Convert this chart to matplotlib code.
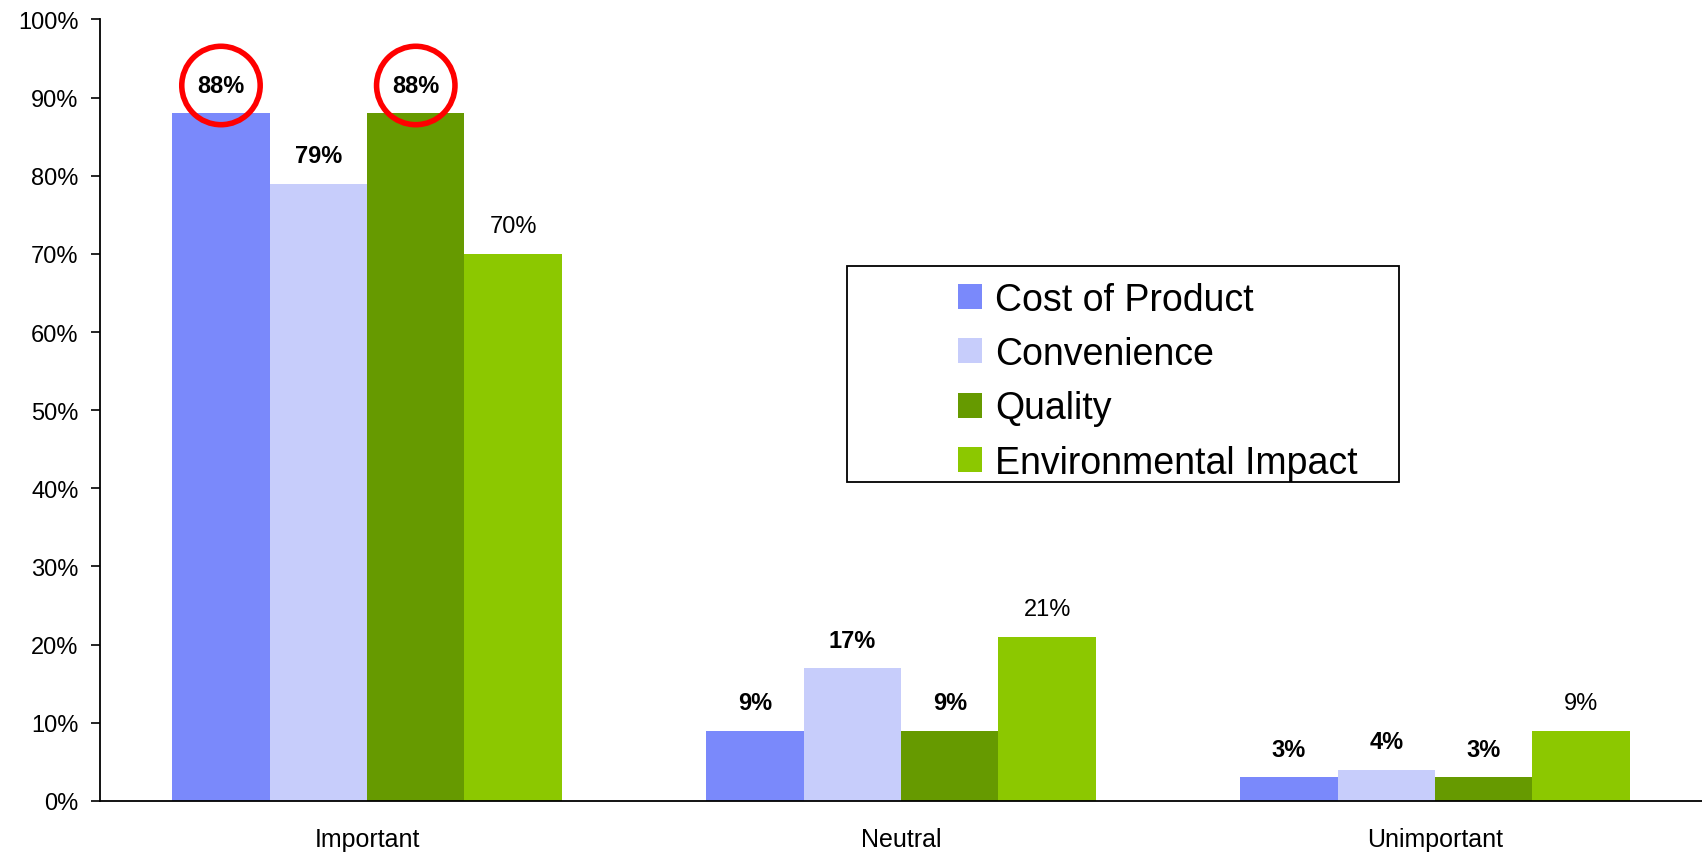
import numpy as np
import matplotlib.pyplot as plt
from matplotlib.patches import Rectangle

plt.rcParams['font.family'] = ['Liberation Sans', 'DejaVu Sans']

categories = ['Important', 'Neutral', 'Unimportant']
series = ['Cost of Product', 'Convenience', 'Quality', 'Environmental Impact']
cost = [88, 9, 3]
convenience = [79, 17, 4]
quality = [88, 9, 3]
environment = [70, 21, 9]
values = [cost, convenience, quality, environment]
colors = ['#7A89FB', '#C7CDFB', '#669A00', '#8CC800']
bold_labels = [True, True, True, False]
circled = [(0, 0), (2, 0)]  # (series, category) with red ring

fig = plt.figure(figsize=(17.02, 8.54), dpi=100)
ax = fig.add_axes([0.0588, 0.061, 0.9412, 0.915])

x = np.arange(len(categories))
w = 0.1824

for i, (name, vals) in enumerate(zip(series, values)):
    pos = x + (i - 1.5) * w
    ax.bar(pos, vals, width=w, color=colors[i], label=name, zorder=2)
    for j, (px, v) in enumerate(zip(pos, vals)):
        kw = {}
        if (i, j) in circled:
            kw['bbox'] = dict(boxstyle='circle,pad=0.66', fc='none', ec='#FF0000', lw=4)
        ax.annotate(f'{v}%', (px, v), xytext=(0, 20), textcoords='offset points',
                    ha='center', va='center', fontsize=17,
                    fontweight='bold' if bold_labels[i] else 'normal', zorder=5, **kw)

ax.set_xlim(-0.5, 2.5)
ax.set_ylim(0, 100)
ax.set_yticks(np.arange(0, 101, 10))
ax.set_yticklabels([f'{t}%' for t in range(0, 101, 10)], fontsize=17)
ax.set_xticks(x)
ax.set_xticklabels(categories, fontsize=18)
ax.tick_params(axis='x', length=0, pad=19)
ax.tick_params(axis='y', length=6.5, width=1.2, direction='out', pad=9)
for s in ['top', 'right']:
    ax.spines[s].set_visible(False)
ax.spines['left'].set_linewidth(1.3)
ax.spines['bottom'].set_linewidth(1.3)

# legend frame and entries
ax.add_patch(Rectangle((0.466, 0.408), 0.345, 0.276, transform=ax.transAxes,
                       fill=False, ec='black', lw=1.3, zorder=6, clip_on=False))
ax.legend(loc='upper left', bbox_to_anchor=(0.517, 0.703), frameon=False,
          fontsize=27, handlelength=0.64, handleheight=0.64, handletextpad=0.34,
          labelspacing=0.49, borderpad=0.3)

fig.savefig('out.png', dpi=100)
